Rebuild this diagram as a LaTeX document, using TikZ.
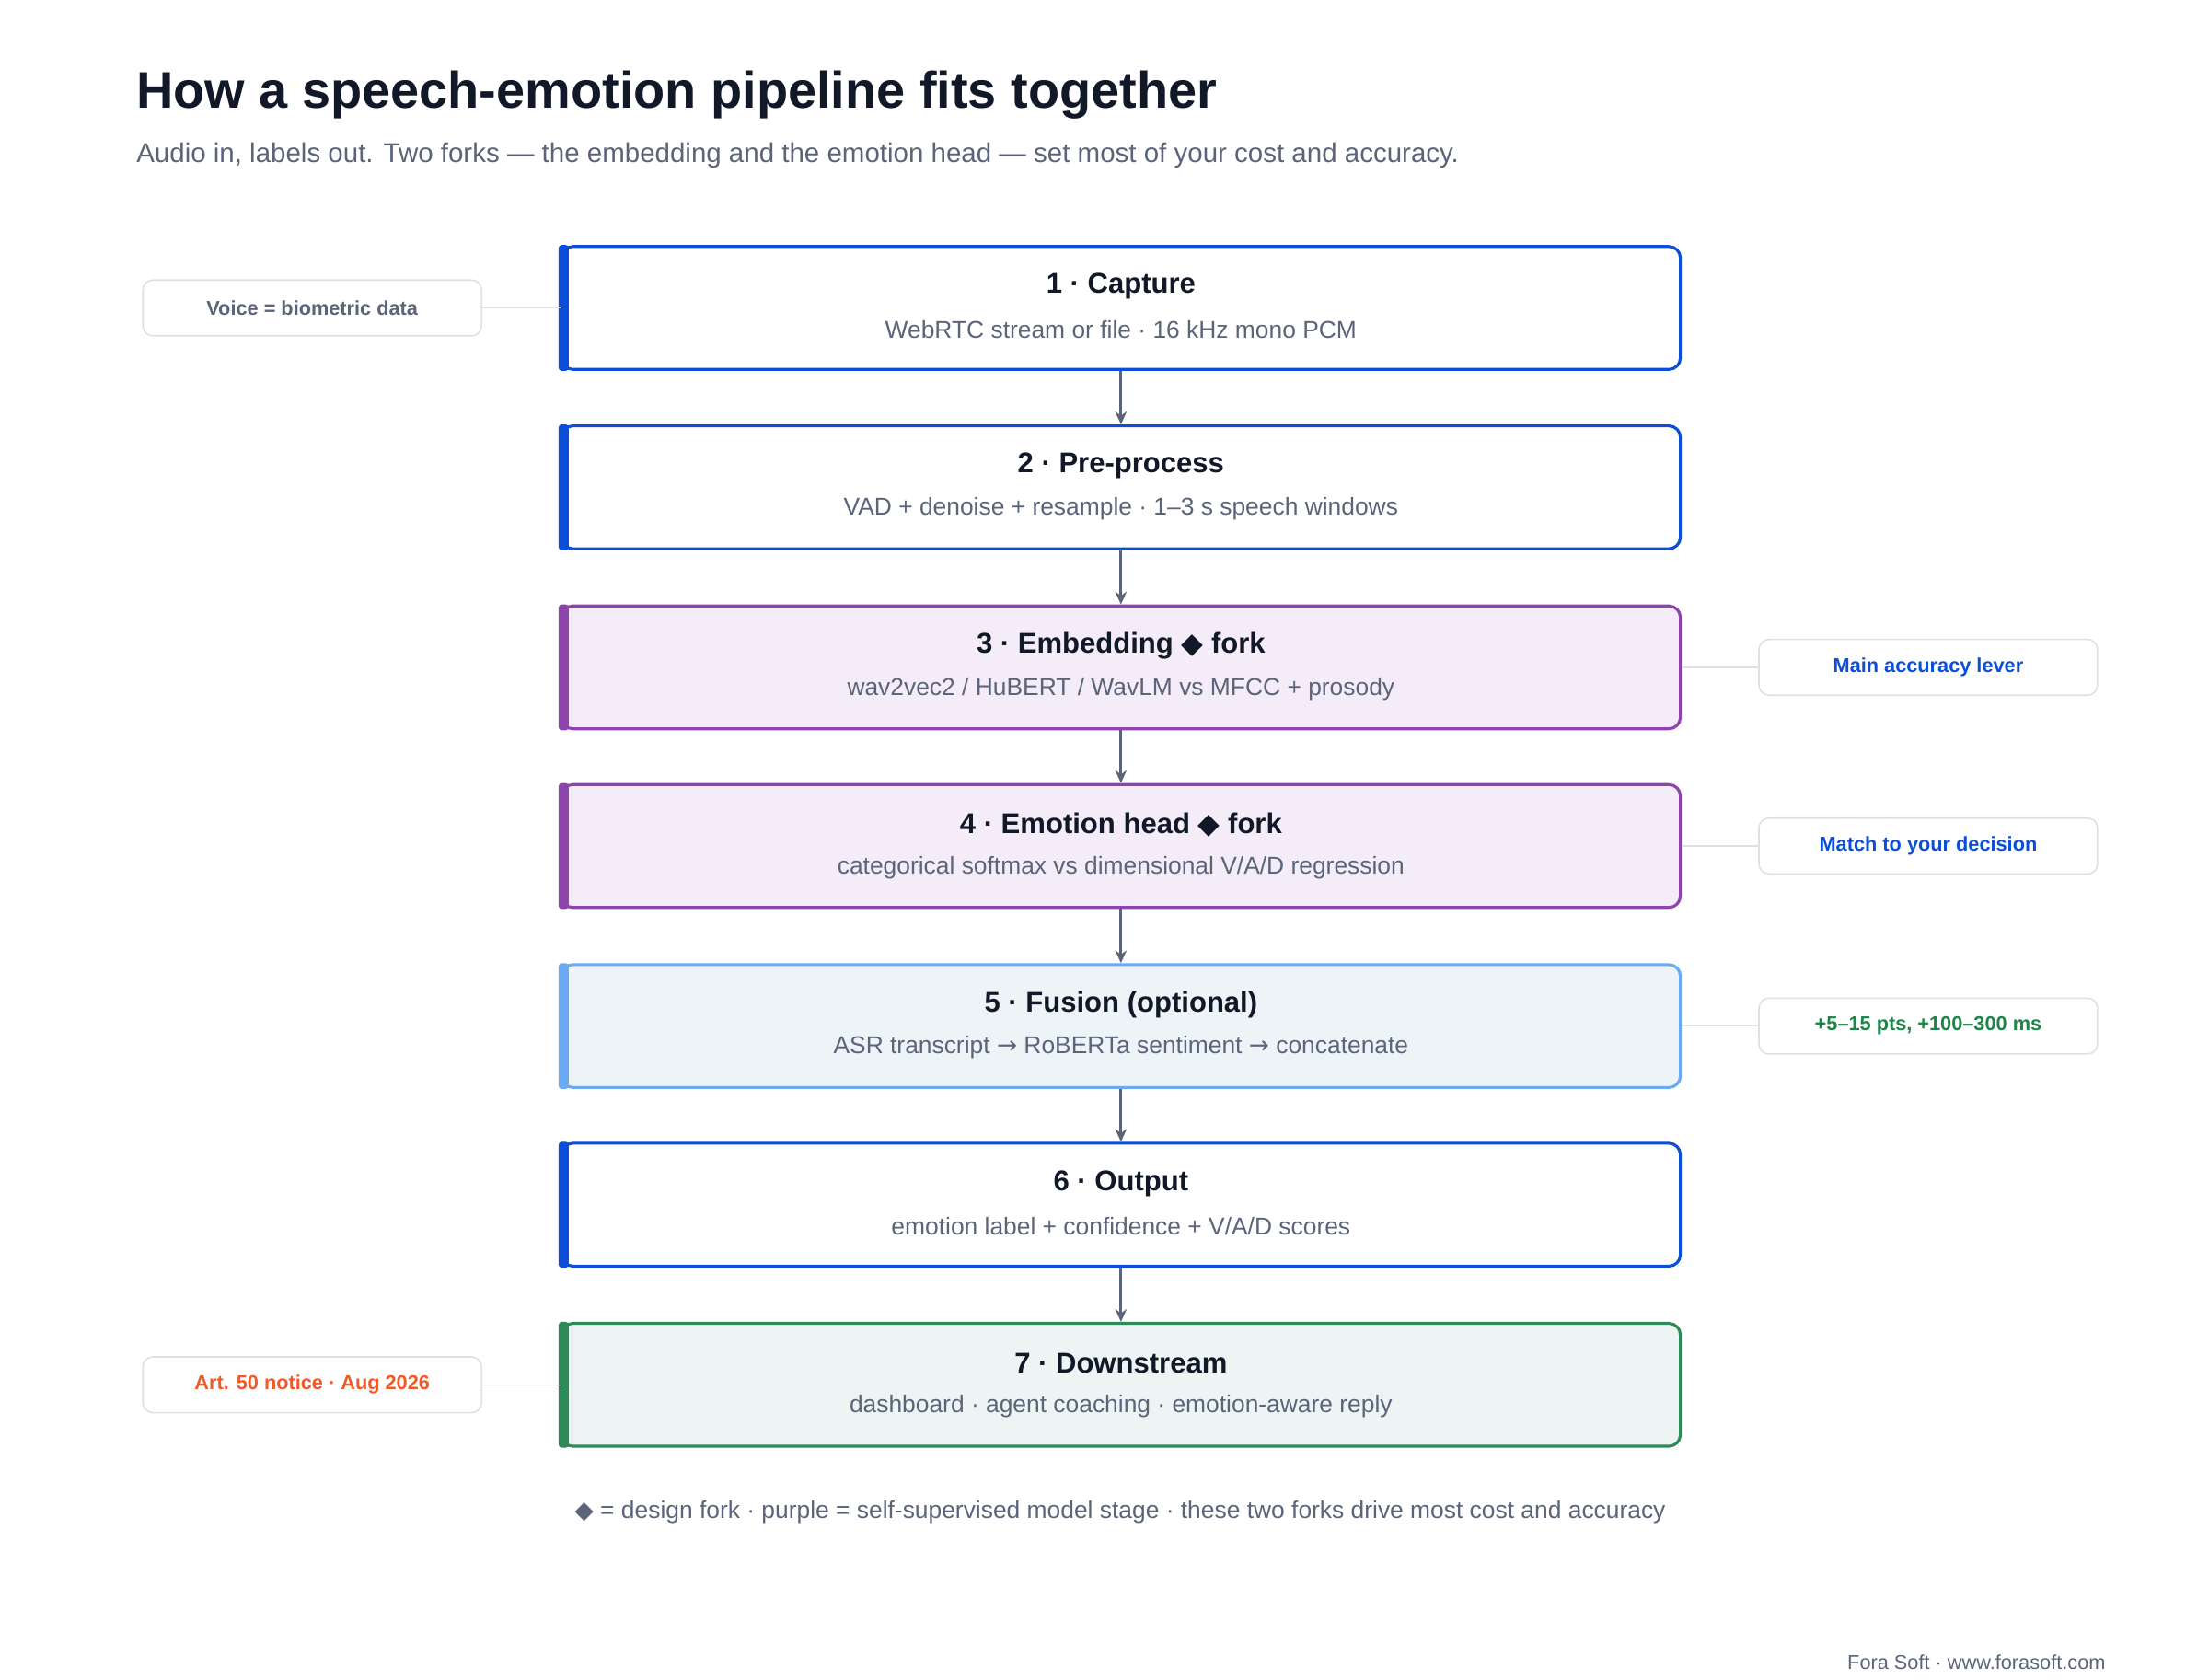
\documentclass[tikz,border=0pt]{standalone}
\usepackage{fontspec}
\setmainfont{Liberation Sans}
\newfontfamily\djv{DejaVu Sans}
\usetikzlibrary{arrows.meta}
\definecolor{ink}{HTML}{111827}
\definecolor{sub}{HTML}{5B6479}
\definecolor{bl}{HTML}{0B4FD8}
\definecolor{pu}{HTML}{8E44AD}
\definecolor{pufill}{HTML}{F4ECF9}
\definecolor{lb}{HTML}{6AA9F5}
\definecolor{lbfill}{HTML}{EDF4F7}
\definecolor{gr}{HTML}{2E8B57}
\definecolor{grfill}{HTML}{EDF4F4}
\definecolor{notebd}{HTML}{DDE1E7}
\definecolor{orng}{HTML}{F05A28}
\definecolor{grtxt}{HTML}{1E8449}
\tikzset{
 stage/.style={draw=#1, line width=2pt, rounded corners=8pt, minimum width=783pt, minimum height=86pt, inner sep=0pt},
 note/.style={draw=notebd, line width=1pt, rounded corners=7pt, minimum width=237pt, minimum height=39pt, inner sep=0pt, font=\fontsize{14}{16}\selectfont\bfseries},
 link/.style={draw=notebd, line width=1pt},
 arr/.style={draw=sub, line width=2pt, -{Stealth[length=9pt,width=8pt]}},
 ttl/.style={font=\fontsize{20}{24}\selectfont\bfseries, text=ink},
 stx/.style={font=\fontsize{17}{20}\selectfont, text=sub}
}
\newcommand{\stagebox}[6]{% name, y-center, border, fill, title, subtitle
 \node[stage=#3, fill=#4] (#1) at (784.5,#2) {};
 \fill[#3, rounded corners=2pt] ([xshift=-1pt]#1.north west) rectangle ([xshift=6pt]#1.south west);
 \node[ttl] at (784.5,#2-15) {#5};
 \node[stx] at (784.5,#2+15) {#6};
}
\begin{document}
\begin{tikzpicture}[x=1pt,y=-1pt]
\fill[white] (0,0) rectangle (1546,1175);
\useasboundingbox (0,0) rectangle (1546,1175);
\node[anchor=base west, font=\fontsize{36}{40}\selectfont\bfseries, text=ink] at (92,76) {How a speech-emotion pipeline fits together};
\node[anchor=base west, font=\fontsize{19}{22}\selectfont, text=sub] at (92,114) {Audio in, labels out. Two forks — the embedding and the emotion head — set most of your cost and accuracy.};
\stagebox{s1}{215.5}{bl}{white}{1 · Capture}{WebRTC stream or file · 16 kHz mono PCM}
\stagebox{s2}{341}{bl}{white}{2 · Pre-process}{VAD + denoise + resample · 1–3 s speech windows}
\stagebox{s3}{467}{pu}{pufill}{3 · Embedding {\djv◆} fork}{wav2vec2 / HuBERT / WavLM vs MFCC + prosody}
\stagebox{s4}{592}{pu}{pufill}{4 · Emotion head {\djv◆} fork}{categorical softmax vs dimensional V/A/D regression}
\stagebox{s5}{718}{lb}{lbfill}{5 · Fusion (optional)}{ASR transcript {\djv→} RoBERTa sentiment {\djv→} concatenate}
\stagebox{s6}{843}{bl}{white}{6 · Output}{emotion label + confidence + V/A/D scores}
\stagebox{s7}{969}{gr}{grfill}{7 · Downstream}{dashboard · agent coaching · emotion-aware reply}
\foreach \a/\b in {s1/s2,s2/s3,s3/s4,s4/s5,s5/s6,s6/s7}
  \draw[arr] (\a.south) -- (\b.north);
\node[note, text=sub] (n1) at (218.5,215.5) {Voice = biometric data};
\node[note, text=bl] (n3) at (1349.5,467) {Main accuracy lever};
\node[note, text=bl] (n4) at (1349.5,592) {Match to your decision};
\node[note, text=grtxt] (n5) at (1349.5,718) {+5–15 pts, +100–300 ms};
\node[note, text=orng] (n7) at (218.5,969) {Art. 50 notice · Aug 2026};
\draw[link] (n1.east) -- (s1.west);
\draw[link] (n3.west) -- (s3.east);
\draw[link] (n4.west) -- (s4.east);
\draw[link] (n5.west) -- (s5.east);
\draw[link] (n7.east) -- (s7.west);
\node[font=\fontsize{17}{20}\selectfont, text=sub] at (784,1058) {{\djv◆} = design fork · purple = self-supervised model stage · these two forks drive most cost and accuracy};
\node[anchor=east, font=\fontsize{14}{16}\selectfont, text=sub] at (1477,1163) {Fora Soft · www.forasoft.com};
\end{tikzpicture}
\end{document}
